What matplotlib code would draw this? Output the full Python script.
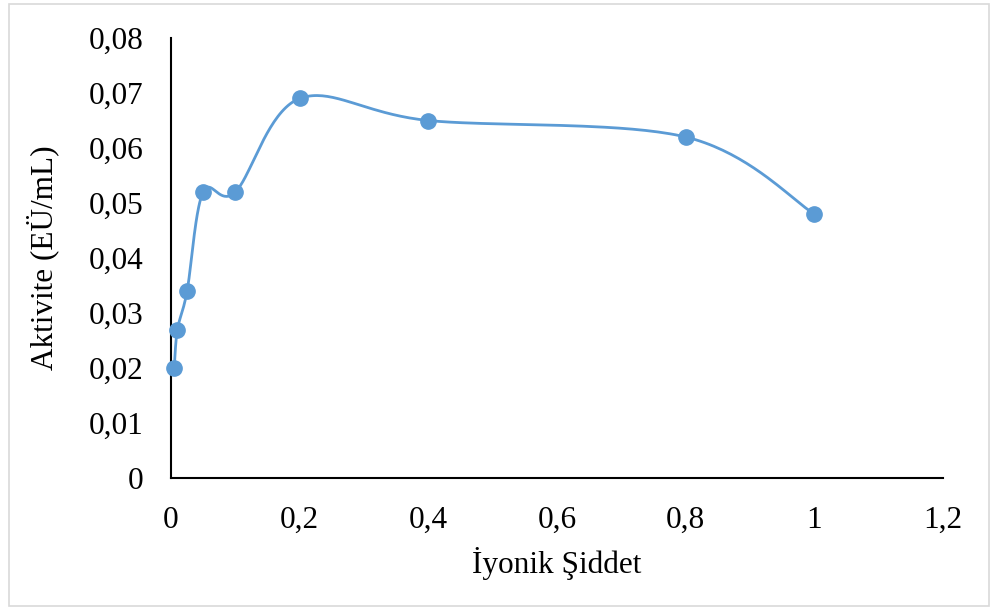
import numpy as np
import matplotlib
matplotlib.use("Agg")
import matplotlib.pyplot as plt
from matplotlib.patches import Rectangle

# Ionic strength vs. enzyme activity
ionic_strength = [0.005, 0.01, 0.025, 0.05, 0.1, 0.2, 0.4, 0.8, 1.0]
activity = [0.020, 0.027, 0.034, 0.052, 0.052, 0.069, 0.065, 0.062, 0.048]

x_ticks = [0, 0.2, 0.4, 0.6, 0.8, 1.0, 1.2]
x_tick_labels = ["0", "0,2", "0,4", "0,6", "0,8", "1", "1,2"]
y_ticks = [0, 0.01, 0.02, 0.03, 0.04, 0.05, 0.06, 0.07, 0.08]
y_tick_labels = ["0", "0,01", "0,02", "0,03", "0,04", "0,05", "0,06", "0,07", "0,08"]

color = "#5B9BD5"
plt.rcParams["font.family"] = ["Liberation Serif", "DejaVu Serif"]

fig = plt.figure(figsize=(9.92, 6.09), dpi=100)
ax = fig.add_axes([171 / 992, 1 - 478 / 609, (943 - 171) / 992, (478 - 38) / 609])
ax.set_xlim(0, 1.2)
ax.set_ylim(0, 0.08)

# Frame around the whole chart area
fig.patches.append(Rectangle((9 / 992, 3 / 609), 980 / 992, 602 / 609,
                             transform=fig.transFigure, fill=False,
                             edgecolor="#d9d9d9", linewidth=1.2))


def smooth_path(xs, ys, ax, t=1 / 6, n=40):
    """Spreadsheet-style smoothed line: cubic Bezier segments in display space."""
    pts = ax.transData.transform(np.column_stack([xs, ys]))
    m = len(pts)
    out = []
    for i in range(m - 1):
        p0 = pts[i - 1] if i > 0 else pts[i]
        p1 = pts[i]
        p2 = pts[i + 1]
        p3 = pts[i + 2] if i + 2 < m else pts[i + 1]
        c1 = p1 + (p2 - p0) * t
        c2 = p2 - (p3 - p1) * t
        s = np.linspace(0, 1, n)[:, None]
        seg = ((1 - s) ** 3) * p1 + 3 * ((1 - s) ** 2) * s * c1 + 3 * (1 - s) * s ** 2 * c2 + s ** 3 * p2
        out.append(seg if i == 0 else seg[1:])
    curve = np.vstack(out)
    return ax.transData.inverted().transform(curve)


curve = smooth_path(ionic_strength, activity, ax)
ax.plot(curve[:, 0], curve[:, 1], color=color, linewidth=2.0, zorder=2)
ax.plot(ionic_strength, activity, linestyle="none", marker="o",
        markersize=11, color=color, zorder=3, clip_on=False)

ax.set_xticks(x_ticks)
ax.set_xticklabels(x_tick_labels)
ax.set_yticks(y_ticks)
ax.set_yticklabels(y_tick_labels)
ax.tick_params(axis="both", length=0, labelsize=22.5, colors="black")
ax.tick_params(axis="x", pad=20)
ax.tick_params(axis="y", pad=20)

for side in ["top", "right"]:
    ax.spines[side].set_visible(False)
for side in ["left", "bottom"]:
    ax.spines[side].set_color("black")
    ax.spines[side].set_linewidth(1.5)

ax.set_xlabel("İyonik Şiddet", fontsize=22.5, labelpad=9)
ax.set_ylabel("Aktivite (EÜ/mL)", fontsize=22.5, labelpad=21)

fig.savefig("out.png", dpi=100)
